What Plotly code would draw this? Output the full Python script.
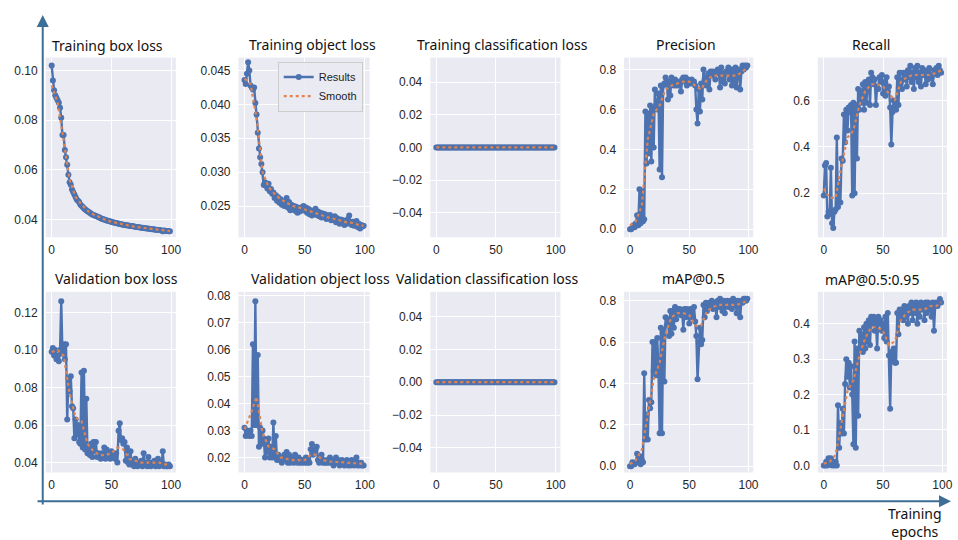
import plotly.graph_objects as go

# ---------------- data ----------------
epochs = list(range(100))
smooth_epochs = [0, 5, 10, 15, 20, 25, 30, 35, 40, 45, 50, 55, 60, 65, 70, 75, 80, 85, 90, 95, 99]

train_box = [0.102,0.096,0.092,0.090,0.089,0.088,0.087,0.085,0.081,0.074,
             0.074,0.068,0.065,0.062,0.058,0.055,0.054,0.052,0.051,0.050,
             0.049,0.048,0.0475,0.047,0.046,0.0455,0.045,0.0445,0.044,0.0437,
             0.0433,0.043,0.0427,0.0423,0.042,0.0418,0.0416,0.0414,0.0412,0.041,
             0.0408,0.0405,0.0403,0.0401,0.040,0.0398,0.0396,0.0394,0.0393,0.0391,
             0.039,0.0388,0.0387,0.0386,0.0385,0.0384,0.0382,0.0381,0.038,0.0379,
             0.0378,0.0377,0.0376,0.0376,0.0375,0.0374,0.0373,0.0373,0.0372,0.0371,
             0.037,0.0369,0.0369,0.0368,0.0367,0.0366,0.0366,0.0365,0.0364,0.0364,
             0.0363,0.0362,0.0362,0.0361,0.036,0.036,0.0359,0.0358,0.0358,0.0357,
             0.0357,0.0356,0.0355,0.0352,0.0355,0.0354,0.0353,0.0353,0.0352,0.0352]
train_box_smooth = [0.094,0.087,0.072,0.056,0.049,0.046,0.0435,0.042,0.041,0.0398,0.039,
                    0.0385,0.0378,0.0374,0.037,0.0367,0.0364,0.036,0.0357,0.0354,0.0353]

train_obj = [0.0436,0.0430,0.0445,0.0462,0.0450,0.0428,0.0425,0.0422,0.0425,0.0402,
             0.0385,0.0358,0.0335,0.0322,0.0312,0.0300,0.0281,0.0285,0.0280,0.0276,
             0.0283,0.0272,0.0275,0.0268,0.0270,0.0262,0.0266,0.0258,0.0263,0.0255,
             0.0260,0.0252,0.0257,0.0250,0.0255,0.0262,0.0248,0.0256,0.0244,0.0252,
             0.0246,0.0250,0.0243,0.0249,0.0240,0.0247,0.0242,0.0248,0.0245,0.0250,
             0.0243,0.0248,0.0240,0.0246,0.0238,0.0244,0.0236,0.0242,0.0238,0.0246,
             0.0237,0.0242,0.0235,0.0240,0.0233,0.0239,0.0234,0.0238,0.0231,0.0236,
             0.0232,0.0237,0.0229,0.0234,0.0230,0.0235,0.0226,0.0232,0.0228,0.0224,
             0.0230,0.0225,0.0229,0.0222,0.0228,0.0224,0.0231,0.0236,0.0226,0.0222,
             0.0227,0.0221,0.0225,0.0228,0.0219,0.0224,0.0217,0.0222,0.0220,0.0221]
train_obj_smooth = [0.0438,0.0430,0.0380,0.0300,0.0278,0.0268,0.0260,0.0255,0.0250,0.0248,0.0245,
                    0.0242,0.0238,0.0236,0.0233,0.0231,0.0228,0.0226,0.0225,0.0222,0.0221]

train_cls = [0.0] * 100
train_cls_smooth = [0.0] * 21

precision = [0.00,0.00,0.01,0.02,0.01,0.03,0.07,0.02,0.20,0.03,
             0.19,0.04,0.05,0.59,0.33,0.58,0.38,0.62,0.34,0.60,
             0.41,0.70,0.62,0.60,0.68,0.30,0.72,0.26,0.72,0.73,
             0.76,0.74,0.65,0.74,0.67,0.76,0.73,0.72,0.75,0.72,
             0.74,0.72,0.73,0.69,0.75,0.76,0.74,0.76,0.72,0.75,
             0.74,0.73,0.75,0.73,0.74,0.72,0.60,0.53,0.70,0.59,
             0.73,0.65,0.80,0.75,0.72,0.76,0.78,0.70,0.79,0.77,
             0.79,0.78,0.75,0.79,0.80,0.78,0.71,0.81,0.74,0.78,
             0.73,0.79,0.78,0.81,0.75,0.80,0.72,0.80,0.73,0.81,
             0.71,0.79,0.80,0.70,0.79,0.82,0.80,0.82,0.81,0.82]
precision_smooth = [0.02,0.04,0.12,0.45,0.58,0.62,0.70,0.72,0.73,0.74,0.74,
                    0.72,0.70,0.75,0.77,0.77,0.77,0.77,0.77,0.79,0.81]

recall = [0.19,0.32,0.33,0.10,0.12,0.11,0.31,0.07,0.05,0.12,
          0.13,0.44,0.14,0.24,0.16,0.35,0.34,0.54,0.42,0.56,
          0.47,0.57,0.55,0.58,0.19,0.59,0.20,0.58,0.35,0.65,
          0.56,0.64,0.59,0.67,0.56,0.68,0.59,0.68,0.69,0.58,
          0.72,0.70,0.67,0.69,0.58,0.66,0.65,0.70,0.68,0.71,
          0.63,0.68,0.62,0.70,0.64,0.66,0.57,0.41,0.55,0.60,
          0.57,0.56,0.70,0.58,0.72,0.68,0.65,0.72,0.69,0.72,
          0.66,0.73,0.70,0.75,0.68,0.72,0.65,0.74,0.70,0.75,
          0.68,0.72,0.66,0.74,0.71,0.73,0.67,0.72,0.69,0.74,
          0.71,0.70,0.67,0.73,0.72,0.74,0.71,0.75,0.73,0.72]
recall_smooth = [0.22,0.18,0.18,0.32,0.44,0.47,0.58,0.64,0.67,0.67,0.66,
                 0.63,0.60,0.68,0.70,0.71,0.71,0.71,0.71,0.72,0.73]

val_box = [0.099,0.101,0.097,0.100,0.095,0.097,0.094,0.100,0.126,0.098,
           0.103,0.095,0.103,0.063,0.085,0.078,0.086,0.070,0.069,0.053,
           0.063,0.055,0.060,0.051,0.050,0.088,0.048,0.089,0.047,0.074,
           0.045,0.048,0.044,0.050,0.043,0.051,0.046,0.051,0.043,0.045,
           0.044,0.042,0.045,0.043,0.048,0.042,0.047,0.043,0.045,0.042,
           0.046,0.043,0.044,0.042,0.045,0.040,0.057,0.061,0.052,0.053,
           0.050,0.051,0.041,0.048,0.040,0.039,0.046,0.039,0.041,0.038,
           0.042,0.039,0.038,0.040,0.039,0.041,0.038,0.045,0.039,0.040,
           0.038,0.043,0.039,0.038,0.040,0.039,0.041,0.038,0.039,0.042,
           0.038,0.040,0.039,0.046,0.038,0.039,0.038,0.038,0.039,0.038]
val_box_smooth = [0.099,0.100,0.097,0.077,0.064,0.062,0.050,0.046,0.044,0.044,0.045,
                  0.048,0.047,0.042,0.041,0.040,0.040,0.040,0.040,0.039,0.039]

val_obj = [0.031,0.028,0.030,0.029,0.028,0.030,0.028,0.062,0.032,0.078,
           0.032,0.058,0.024,0.031,0.025,0.030,0.027,0.020,0.026,0.022,
           0.027,0.020,0.024,0.020,0.033,0.020,0.028,0.019,0.021,0.019,
           0.020,0.018,0.019,0.021,0.019,0.022,0.018,0.021,0.018,0.020,
           0.019,0.018,0.021,0.019,0.018,0.020,0.018,0.019,0.018,0.019,
           0.018,0.020,0.018,0.019,0.018,0.023,0.025,0.021,0.022,0.023,
           0.024,0.019,0.018,0.020,0.021,0.018,0.019,0.018,0.018,0.019,
           0.018,0.020,0.018,0.019,0.017,0.018,0.020,0.018,0.019,0.017,
           0.018,0.019,0.018,0.017,0.018,0.019,0.017,0.018,0.017,0.019,
           0.018,0.017,0.018,0.020,0.017,0.018,0.017,0.018,0.017,0.017]
val_obj_smooth = [0.0305,0.036,0.0425,0.029,0.024,0.023,0.020,0.0195,0.019,0.019,0.019,
                  0.021,0.021,0.019,0.0185,0.0183,0.0183,0.018,0.018,0.0178,0.0175]

val_cls = [0.0] * 100
val_cls_smooth = [0.0] * 21

map50 = [0.00,0.00,0.02,0.01,0.01,0.02,0.06,0.02,0.05,0.01,
         0.03,0.02,0.45,0.13,0.25,0.13,0.32,0.28,0.31,0.60,
         0.46,0.60,0.44,0.62,0.47,0.16,0.67,0.16,0.66,0.41,
         0.72,0.68,0.71,0.63,0.75,0.64,0.75,0.67,0.77,0.71,
         0.76,0.74,0.76,0.73,0.75,0.66,0.76,0.72,0.76,0.74,
         0.69,0.76,0.75,0.72,0.77,0.70,0.63,0.42,0.60,0.67,
         0.59,0.61,0.78,0.72,0.79,0.75,0.77,0.79,0.78,0.80,
         0.76,0.79,0.78,0.72,0.80,0.77,0.81,0.79,0.75,0.80,
         0.74,0.79,0.80,0.77,0.79,0.80,0.76,0.81,0.78,0.80,
         0.74,0.80,0.78,0.72,0.80,0.79,0.81,0.81,0.80,0.81]
map50_smooth = [0.01,0.03,0.08,0.24,0.42,0.50,0.64,0.72,0.74,0.74,0.73,
                0.68,0.68,0.75,0.77,0.78,0.78,0.78,0.78,0.79,0.80]

map5095 = [0.00,0.00,0.01,0.00,0.02,0.01,0.02,0.00,0.01,0.00,
           0.01,0.00,0.17,0.05,0.12,0.09,0.16,0.09,0.23,0.30,
           0.25,0.29,0.22,0.28,0.20,0.06,0.35,0.05,0.33,0.14,
           0.38,0.33,0.37,0.32,0.39,0.33,0.40,0.35,0.41,0.34,
           0.42,0.40,0.42,0.38,0.41,0.33,0.42,0.40,0.41,0.38,
           0.40,0.36,0.42,0.35,0.43,0.31,0.16,0.32,0.30,0.33,
           0.29,0.29,0.43,0.37,0.44,0.42,0.44,0.41,0.45,0.42,
           0.44,0.40,0.45,0.43,0.46,0.41,0.45,0.43,0.46,0.40,
           0.45,0.42,0.46,0.44,0.45,0.41,0.46,0.43,0.46,0.44,
           0.45,0.42,0.46,0.38,0.45,0.46,0.45,0.46,0.47,0.46]
map5095_smooth = [0.005,0.01,0.03,0.12,0.21,0.24,0.31,0.36,0.39,0.39,0.38,
                  0.34,0.35,0.41,0.43,0.44,0.44,0.44,0.45,0.45,0.46]

titles = ["Training box loss", "Training object loss", "Training classification loss",
          "Precision", "Recall",
          "Validation box loss", "Validation object loss", "Validation classification loss",
          "mAP@0.5", "mAP@0.5:0.95"]
x_ticks = [0, 50, 100]
legend_labels = ["Results", "Smooth"]
axis_label = "Training<br>epochs"

results = [train_box, train_obj, train_cls, precision, recall,
           val_box, val_obj, val_cls, map50, map5095]
smooths = [train_box_smooth, train_obj_smooth, train_cls_smooth, precision_smooth, recall_smooth,
           val_box_smooth, val_obj_smooth, val_cls_smooth, map50_smooth, map5095_smooth]

y_ticks = [[0.04, 0.06, 0.08, 0.10],
           [0.025, 0.030, 0.035, 0.040, 0.045],
           [-0.04, -0.02, 0.0, 0.02, 0.04],
           [0.0, 0.2, 0.4, 0.6, 0.8],
           [0.2, 0.4, 0.6],
           [0.04, 0.06, 0.08, 0.10, 0.12],
           [0.02, 0.03, 0.04, 0.05, 0.06, 0.07, 0.08],
           [-0.04, -0.02, 0.0, 0.02, 0.04],
           [0.0, 0.2, 0.4, 0.6, 0.8],
           [0.0, 0.1, 0.2, 0.3, 0.4]]
y_formats = [".2f", ".3f", ".2f", ".1f", ".1f", ".2f", ".2f", ".2f", ".1f", ".1f"]

# ---------------- layout helpers ----------------
W, H = 958, 540
y_ranges = [[0.0328, 0.1052], [0.0204, 0.0469], [-0.055, 0.055], [-0.04, 0.86], [0.01, 0.785],
            [0.0347, 0.131], [0.0144, 0.0815], [-0.055, 0.055], [-0.03, 0.843], [-0.02, 0.49]]
x_px = [(46, 177), (240, 372), (433, 564), (628, 758), (823, 953)]
row_px = [(55, 236), (291, 473)]
title_px = [(108, 43), (314, 42), (506, 42), (690, 42), (876, 42),
            (117, 278), (323, 278), (491, 278), (698, 278), (877, 279)]

BLUE = "#4C72B0"
ORANGE = "#DD8452"
BG = "#EAEAF2"
TICKFONT = dict(family="Liberation Sans, Arial", size=12, color="#262626")

fig = go.Figure()
layout = dict()
annotations = []

for i in range(10):
    r, c = divmod(i, 5)
    n = i + 1
    xa = "x" if n == 1 else f"x{n}"
    ya = "y" if n == 1 else f"y{n}"
    show = (i == 1)
    fig.add_trace(go.Scatter(
        x=epochs[:len(results[i])], y=results[i], mode="lines+markers",
        line=dict(color=BLUE, width=2.4), marker=dict(color=BLUE, size=6),
        name=legend_labels[0], showlegend=show, xaxis=xa, yaxis=ya))
    fig.add_trace(go.Scatter(
        x=smooth_epochs, y=smooths[i], mode="lines",
        line=dict(color=ORANGE, width=2.2, dash="dot"),
        name=legend_labels[1], showlegend=show, xaxis=xa, yaxis=ya))

    x0, x1 = x_px[c]
    top, bot = row_px[r]
    key_x = "xaxis" if n == 1 else f"xaxis{n}"
    key_y = "yaxis" if n == 1 else f"yaxis{n}"
    layout[key_x] = dict(domain=[x0 / W, x1 / W], anchor=ya, range=[-5, 104],
                         tickvals=x_ticks, showgrid=True, gridcolor="white", gridwidth=1.2,
                         zeroline=False, showline=False, ticks="", ticklabelstandoff=4,
                         tickfont=TICKFONT)
    layout[key_y] = dict(domain=[1 - bot / H, 1 - top / H], anchor=xa, range=y_ranges[i],
                         tickvals=y_ticks[i], tickformat=y_formats[i],
                         showgrid=True, gridcolor="white", gridwidth=1.2,
                         zeroline=False, showline=False, ticks="", ticklabelstandoff=7,
                         tickfont=TICKFONT)
    tx, ty = title_px[i]
    annotations.append(dict(text=titles[i], x=tx / W, y=1 - ty / H, xref="paper", yref="paper",
                            xanchor="center", yanchor="middle", showarrow=False,
                            font=dict(family="Noto Sans", size=14, color="#111111")))

# axis arrows
ARROW = "#3D6E96"
annotations.append(dict(x=43 / W, y=1 - 12 / H, xref="paper", yref="paper", text="",
                        showarrow=True, ax=0, ay=491, arrowhead=2, arrowsize=1.2,
                        arrowwidth=2, arrowcolor=ARROW))
annotations.append(dict(x=957 / W, y=1 - 502 / H, xref="paper", yref="paper", text="",
                        showarrow=True, ax=-915, ay=0, arrowhead=2, arrowsize=1.2,
                        arrowwidth=2, arrowcolor=ARROW))
annotations.append(dict(text=axis_label, x=921 / W, y=1 - 503 / H, xref="paper", yref="paper",
                        xanchor="center", yanchor="top", showarrow=False, align="center",
                        font=dict(family="Noto Sans", size=14, color="#111111")))

fig.update_layout(
    width=W, height=H, margin=dict(l=0, r=0, t=0, b=0),
    paper_bgcolor="white", plot_bgcolor=BG,
    annotations=annotations,
    legend=dict(x=365 / W, y=1 - 59 / H, xanchor="right", yanchor="top",
                bgcolor="rgba(234,234,242,0.9)", bordercolor="#cccccc", borderwidth=1,
                font=dict(family="Liberation Sans, Arial", size=11, color="#222222"),
                tracegroupgap=0, itemwidth=30),
    **layout)

fig.write_html("out.html", config={"displayModeBar": False},
               post_script="document.body.style.margin='0';document.body.style.overflow='hidden';")
